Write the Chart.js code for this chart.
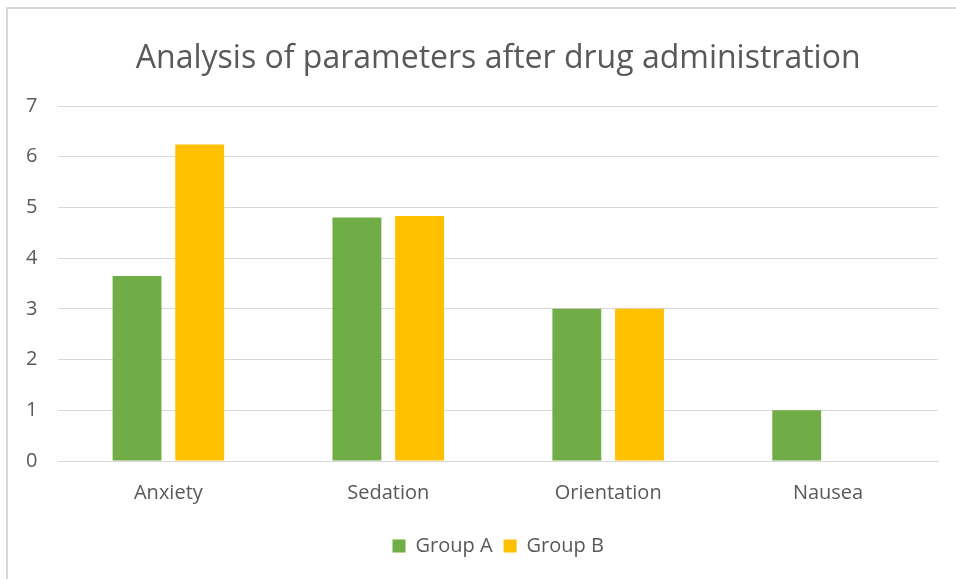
<!DOCTYPE html>
<html>
<head>
<meta charset="utf-8">
<script src="https://cdn.jsdelivr.net/npm/chart.js@4.4.0/dist/chart.umd.min.js"></script>
<style>
  html, body { margin: 0; padding: 0; background: #fff; }
  #wrap { position: absolute; left: 0; top: 0; width: 956px; height: 579px; }
  #frame { position: absolute; left: 6px; top: 7px; width: 960px; height: 600px;
           border-left: 2px solid #d9d9d9; border-top: 2px solid #d9d9d9; }
  canvas { position: absolute; left: 0; top: 0; }
</style>
</head>
<body>
<div id="wrap">
  <div id="frame"></div>
  <canvas id="chart" width="956" height="579"></canvas>
</div>
<script>
/* Data */
const categories = ['Anxiety', 'Sedation', 'Orientation', 'Nausea'];
const groupA = [3.65, 4.80, 3.0, 1.0];
const groupB = [6.24, 4.83, 3.0, 0];
const yTicks = [0, 1, 2, 3, 4, 5, 6, 7];

const TEXT = '#595959';
const GRID = '#d9d9d9';
const TICK_FONT = { family: "'Open Sans', sans-serif", size: 20 };

new Chart(document.getElementById('chart'), {
  type: 'bar',
  data: {
    labels: categories,
    datasets: [
      { label: 'Group A', data: groupA, backgroundColor: '#70ad47',
        barPercentage: 0.78, categoryPercentage: 0.57 },
      { label: 'Group B', data: groupB, backgroundColor: '#ffc000',
        barPercentage: 0.78, categoryPercentage: 0.57 }
    ]
  },
  options: {
    responsive: false,
    animation: false,
    layout: { padding: { left: 5, right: 18, top: 40, bottom: 13 } },
    plugins: {
      title: {
        display: true,
        fullSize: false,
        text: 'Analysis of parameters after drug administration',
        color: TEXT,
        font: { family: "'Open Sans', sans-serif", size: 32, weight: '400' },
        padding: { top: 0, bottom: 27.6 }
      },
      legend: {
        position: 'bottom',
        fullSize: false,
        labels: {
          color: TEXT,
          font: TICK_FONT,
          boxWidth: 13,
          boxHeight: 13,
          padding: 11
        }
      },
      tooltip: { enabled: false }
    },
    scales: {
      x: {
        grid: { display: false, drawTicks: false },
        border: { color: GRID, width: 1 },
        ticks: { color: TEXT, font: TICK_FONT, padding: 20 }
      },
      y: {
        min: 0,
        max: yTicks[yTicks.length - 1],
        afterBuildTicks: axis => { axis.ticks = yTicks.map(v => ({ value: v })); },
        grid: { color: GRID, lineWidth: 1, drawTicks: false },
        border: { display: false },
        ticks: { color: TEXT, font: TICK_FONT, padding: 21 }
      }
    }
  }
});
</script>
</body>
</html>
